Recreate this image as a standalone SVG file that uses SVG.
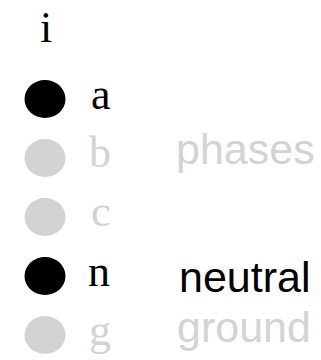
<svg xmlns="http://www.w3.org/2000/svg" width="321" height="360" viewBox="0 0 321 360">
<style>
.s{font-family:"Liberation Serif","Times New Roman",serif;font-size:44px}
.a{font-family:"Liberation Sans",Arial,sans-serif;font-size:43px}
.on{fill:#000}
.off{fill:#d3d3d3}
</style>
<rect width="321" height="360" fill="#fff"/>
<g id="header"><text class="s on" x="40" y="42">i</text></g>
<g id="node-a"><ellipse class="on" cx="45" cy="99" rx="20.5" ry="19"/><text class="s on" x="91" y="109">a</text></g>
<g id="node-b"><ellipse class="off" cx="45" cy="158" rx="20.5" ry="19"/><text class="s off" x="89" y="167">b</text></g>
<g id="node-c"><ellipse class="off" cx="45" cy="217" rx="20.5" ry="19"/><text class="s off" x="91" y="226">c</text></g>
<g id="node-n"><ellipse class="on" cx="45" cy="276" rx="20.5" ry="19"/><text class="s on" x="88" y="286">n</text></g>
<g id="node-g"><ellipse class="off" cx="45" cy="335" rx="20.5" ry="19"/><text class="s off" x="89" y="345">g</text></g>
<g id="label-phases"><text class="a off" x="176" y="164">phases</text></g>
<g id="label-neutral"><text class="a on" x="179" y="292">neutral</text></g>
<g id="label-ground"><text class="a off" x="177" y="342">ground</text></g>
<g id="connectors"></g>
</svg>
